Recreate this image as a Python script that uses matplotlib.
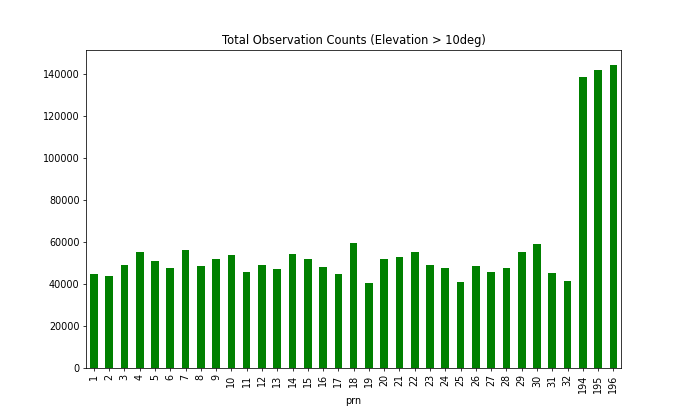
import matplotlib
matplotlib.use("Agg")
import matplotlib.pyplot as plt
import pandas as pd

# satellite prn numbers and observation counts (elevation > 10deg)
prn = [str(i) for i in range(1, 33)] + ["194", "195", "196"]
counts = [44700, 43600, 48700, 55300, 50900, 47600, 55800, 48200, 51900, 53400,
          45700, 49100, 46900, 54200, 51500, 47900, 44700, 59300, 40100, 51500,
          52800, 55300, 49100, 47600, 40600, 48200, 45300, 47600, 55000, 59100,
          44900, 41400, 138400, 141800, 144300]

s = pd.Series(counts, index=pd.Index(prn, name="prn"))

# drawn at 10x6 inch, saved small so the text scales like the reference
fig, ax = plt.subplots(figsize=(10, 413 / 69), dpi=69)
s.plot(kind="bar", color="green", ax=ax)
ax.set_title("Total Observation Counts (Elevation > 10deg)")
fig.savefig("out.png")
